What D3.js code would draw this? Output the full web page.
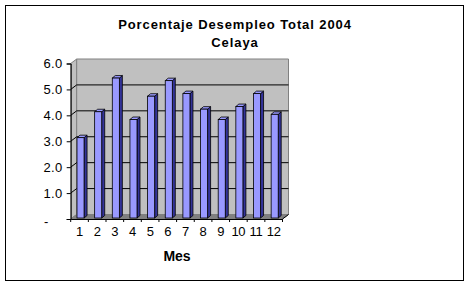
<!DOCTYPE html>
<html>
<head>
<meta charset="utf-8">
<script src="https://cdn.jsdelivr.net/npm/d3@7"></script>
<style>
  body { margin: 0; background: #fff; }
  text { font-family: Arial, "Liberation Sans", sans-serif; }
</style>
</head>
<body>
<div id="chart"></div>
<script>
var months = ["1", "2", "3", "4", "5", "6", "7", "8", "9", "10", "11", "12"];
var desempleo = [3.1, 4.1, 5.4, 3.8, 4.7, 5.3, 4.8, 4.2, 3.8, 4.3, 4.8, 4.0];
var yTicks = [0, 1, 2, 3, 4, 5, 6];
var titleLines = ["Porcentaje Desempleo Total 2004", "Celaya"];
var xTitle = "Mes";

var W = 465, H = 288;
var DX = 6, DY = -4.5;      // depth of the 3d box
var BDX = 3, BDY = -2.5;    // depth of each column

var svg = d3.select('#chart').append('svg')
    .attr('width', W)
    .attr('height', H);

svg.append('rect')
    .attr('x', 5.5).attr('y', 5.5)
    .attr('width', 458).attr('height', 275)
    .attr('fill', '#fff').attr('stroke', '#000');

var y = d3.scaleLinear().domain([0, 6]).range([219, 63.5]);
var x = d3.scaleBand().domain(months).range([70.7, 282.5])
    .paddingInner(0.6).paddingOuter(0.3);

var x0 = x.range()[0], x1 = x.range()[1];
var y0 = y(0), yTop = y(6);

// walls
var pts = function (a) { return a.map(function (p) { return p.join(','); }).join(' '); };

svg.append('polygon') // left wall
    .attr('points', pts([[x0, yTop], [x0 + DX, yTop + DY], [x0 + DX, y0 + DY], [x0, y0]]))
    .attr('fill', '#c0c0c0').attr('stroke', '#808080');

svg.append('polygon') // back wall
    .attr('points', pts([[x0 + DX, yTop + DY], [x1 + DX, yTop + DY], [x1 + DX, y0 + DY], [x0 + DX, y0 + DY]]))
    .attr('fill', '#c0c0c0').attr('stroke', '#808080');

svg.append('polygon') // floor
    .attr('points', pts([[x0, y0], [x0 + DX, y0 + DY], [x1 + DX, y0 + DY], [x1, y0]]))
    .attr('fill', '#808080').attr('stroke', '#808080');

// gridlines
var grid = yTicks.filter(function (d) { return d > 0 && d < 6; });
svg.selectAll('.grid').data(grid).enter().append('polyline')
    .attr('points', function (d) {
        return pts([[x0, y(d)], [x0 + DX, y(d) + DY], [x1 + DX, y(d) + DY]]);
    })
    .attr('fill', 'none').attr('stroke', '#000');

// columns
var bars = svg.selectAll('.bar').data(desempleo).enter().append('g');
var bw = x.bandwidth();
var base = y0 - 1;

bars.append('polygon') // side
    .attr('points', function (d, i) {
        var bx = x(months[i]) + 1 + bw, top = y(d) - 1;
        return pts([[bx, top], [bx + BDX, top + BDY], [bx + BDX, base + BDY], [bx, base]]);
    })
    .attr('fill', '#333399').attr('stroke', '#000').attr('stroke-width', 0.8);

bars.append('polygon') // top
    .attr('points', function (d, i) {
        var bx = x(months[i]) + 1, top = y(d) - 1;
        return pts([[bx, top], [bx + BDX, top + BDY], [bx + bw + BDX, top + BDY], [bx + bw, top]]);
    })
    .attr('fill', '#9999ff').attr('stroke', '#000').attr('stroke-width', 0.8);

bars.append('rect') // front
    .attr('x', function (d, i) { return x(months[i]) + 1; })
    .attr('y', function (d) { return y(d) - 1; })
    .attr('width', bw)
    .attr('height', function (d) { return base - (y(d) - 1); })
    .attr('fill', '#9999ff').attr('stroke', '#000').attr('stroke-width', 0.8);

// y axis
var yAxis = svg.append('g')
    .attr('transform', 'translate(' + x0 + ',0)')
    .call(d3.axisLeft(y).tickValues(yTicks).tickSize(4).tickPadding(4)
        .tickFormat(function (d) { return d === 0 ? '-' : d3.format('.1f')(d); }));
yAxis.select('.domain').attr('stroke', '#000');
yAxis.selectAll('text')
    .attr('font-size', 13).attr('fill', '#000')
    .style('font-family', 'Arial, "Liberation Sans", sans-serif')
    .attr('letter-spacing', 0.4);
yAxis.selectAll('.tick').filter(function (d) { return d === 0; }).select('text')
    .attr('x', -22).attr('dy', '0.5em');

// x axis
var xAxis = svg.append('g')
    .attr('transform', 'translate(0,' + y0 + ')')
    .call(d3.axisBottom(x).tickSize(0).tickPadding(8));
xAxis.select('.domain').attr('stroke', '#000');
xAxis.selectAll('text')
    .attr('font-size', 13).attr('fill', '#000')
    .style('font-family', 'Arial, "Liberation Sans", sans-serif')
    .attr('letter-spacing', -0.3);
var step = x.step();
var bounds = d3.range(13).map(function (i) { return x0 + i * step; });
xAxis.selectAll('.bt').data(bounds).enter().append('line')
    .attr('x1', function (d) { return d; }).attr('x2', function (d) { return d; })
    .attr('y1', 0).attr('y2', 3)
    .attr('stroke', '#000');
svg.append('line')
    .attr('x1', x1).attr('y1', y0).attr('x2', x1 + DX).attr('y2', y0 + DY)
    .attr('stroke', '#000');

// titles
svg.selectAll('.title').data(titleLines).enter().append('text')
    .attr('x', 235)
    .attr('y', function (d, i) { return 29 + i * 17.5; })
    .attr('text-anchor', 'middle')
    .attr('font-size', 13).attr('font-weight', 'bold')
    .attr('letter-spacing', 0.9)
    .text(function (d) { return d; });

svg.append('text')
    .attr('x', 177).attr('y', 261)
    .attr('text-anchor', 'middle')
    .attr('font-size', 14).attr('font-weight', 'bold')
    .text(xTitle);
</script>
</body>
</html>
